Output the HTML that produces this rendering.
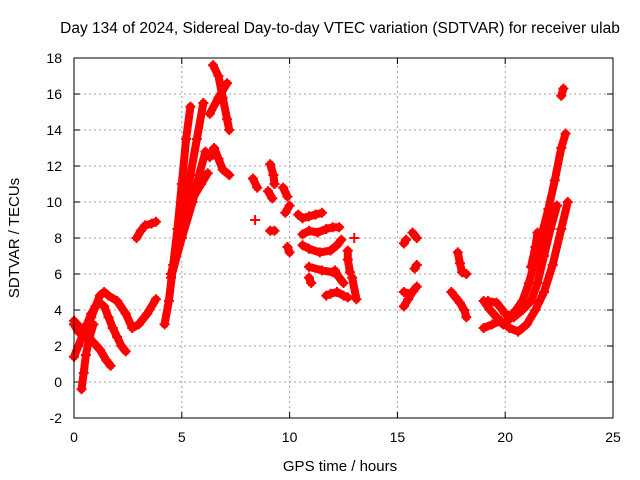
<!DOCTYPE html>
<html><head><meta charset="utf-8"><style>
body{margin:0;background:#fff}
svg{display:block;font-family:"Liberation Sans",sans-serif}
</style></head><body>
<svg id="chart" width="640" height="480">
<rect width="640" height="480" fill="#fff"/>
<text x="340" y="33" font-size="15.5" text-anchor="middle">Day 134 of 2024, Sidereal Day-to-day VTEC variation (SDTVAR) for receiver ulab</text>
<text x="340" y="471" font-size="15" text-anchor="middle">GPS time / hours</text>
<text transform="translate(19,238) rotate(-90)" font-size="15" text-anchor="middle">SDTVAR / TECUs</text>
<g id="grid"></g><g id="marks"></g>
<rect x="74" y="58" width="539" height="360" fill="none" stroke="#000" stroke-width="1"/>
</svg>
<script>
const xTicks=[0,5,10,15,20,25];
const yTicks=[-2,0,2,4,6,8,10,12,14,16,18];
// each track: [time(hours), sdtvar(TECU)] pairs
const track1=[[0,3.2],[0.2,2.8],[0.4,2.6],[0.6,3],[0.8,3.6],[1.0,4.2],[1.2,4.8],[1.4,5.0],[1.6,4.8],[2.0,4.5],[2.4,3.8],[2.7,3.0],[3.0,3.2],[3.4,3.8],[3.8,4.6]];
const track2=[[0,1.4],[0.2,2.0],[0.4,2.6],[0.6,3.2],[0.8,3.8],[1.0,4.2],[1.2,4.4],[1.4,4.2],[1.6,3.6],[1.8,3.0],[2.0,2.5],[2.2,2.0],[2.4,1.7]];
const track3=[[0,3.4],[0.3,3.0],[0.6,2.6],[0.9,2.2],[1.2,1.8],[1.5,1.2],[1.7,0.9]];
const track4=[[0.35,-0.4],[0.45,0.5],[0.55,1.5],[0.7,2.4],[0.9,3.2]];
const track5=[[2.9,8.0],[3.1,8.4],[3.3,8.7],[3.6,8.8],[3.8,8.9]];
const track6=[[4.2,3.2],[4.4,4.5],[4.6,6.5],[4.8,8.5],[5.0,11],[5.2,13.5],[5.4,15.3]];
const track7=[[4.5,6],[4.8,7.5],[5.1,9.5],[5.4,11.5],[5.7,13.5],[6.0,15.5]];
const track8=[[4.5,5.8],[5.0,8],[5.5,10],[5.8,11.5],[6.1,12.8]];
const track9=[[5.2,9],[5.5,10.2],[5.9,11.0],[6.2,11.6]];
const track10=[[6.3,12.5],[6.5,13.0],[6.7,12.4],[6.9,11.8],[7.2,11.5]];
const track11=[[6.3,14.9],[6.7,15.8],[7.1,16.6]];
const track12=[[6.45,17.6],[6.7,17.0],[6.9,15.8],[7.1,14.6],[7.2,14.0]];
const track13=[[8.3,11.3],[8.5,10.8]];
const track14=[[8.4,9.0]];
const track15=[[9.1,12.1],[9.25,11.5],[9.3,11.0]];
const track16=[[9.0,10.6],[9.2,10.2]];
const track17=[[9.1,8.4],[9.3,8.4]];
const track18=[[9.7,10.8],[9.9,10.3]];
const track19=[[9.8,9.4],[10.0,9.8]];
const track20=[[9.9,7.5],[10.0,7.2]];
const track21=[[10.4,9.3],[10.6,9.1],[10.9,9.2],[11.2,9.3],[11.5,9.4]];
const track22=[[10.6,8.2],[10.9,8.4],[11.3,8.3],[11.7,8.5],[12.0,8.6],[12.3,8.6]];
const track23=[[10.6,7.6],[10.9,7.4],[11.4,7.2],[11.9,7.3],[12.2,7.6],[12.4,7.9]];
const track24=[[10.9,6.4],[11.5,6.2],[12.0,6.1]];
const track25=[[10.9,5.8],[11.0,5.5]];
const track26=[[11.7,4.8],[11.9,4.9],[12.2,5.0],[12.5,4.8],[12.7,4.7]];
const track27=[[12.1,6.2],[12.3,5.8],[12.5,5.5]];
const track28=[[12.7,7.3],[12.7,6.8],[12.8,6.1]];
const track29=[[12.9,5.8],[13.1,4.6]];
const track30=[[13.0,8.0]];
const track31=[[15.3,7.7],[15.4,7.9]];
const track32=[[15.7,8.3],[15.9,8.0]];
const track33=[[15.8,6.3],[15.9,6.5]];
const track34=[[15.3,4.2],[15.5,4.6],[15.7,5.0],[15.9,5.3]];
const track35=[[15.3,5.0],[15.6,4.9]];
const track36=[[17.8,7.2],[17.9,6.6],[18.0,6.1],[18.2,6.0]];
const track37=[[17.5,5.0],[17.7,4.7],[17.9,4.4],[18.1,4.0],[18.2,3.6]];
const track38=[[19.0,4.5],[19.3,4.0],[19.6,3.6],[19.9,3.2],[20.2,3.5],[20.5,4.0],[20.8,4.5],[21.1,5.5],[21.4,6.8],[21.7,8.2],[22.0,9.6],[22.3,11.2],[22.6,13],[22.8,13.8]];
const track39=[[19.0,3.0],[19.4,3.2],[19.8,3.4],[20.2,3.0],[20.6,2.8],[21.0,3.2],[21.4,4.0],[21.8,5.0],[22.2,6.5],[22.6,8.5],[22.9,10.0]];
const track40=[[19.2,4.5],[19.6,4.4],[20.0,3.8],[20.4,3.6],[20.8,4.0],[21.2,4.5],[21.5,5.5],[21.8,7],[22.1,8.5],[22.4,9.8]];
const track41=[[21.2,6.4],[21.4,7.5],[21.5,8.3]];
const track42=[[22.6,15.9],[22.7,16.3]];
const tracks=[track1,track2,track3,track4,track5,track6,track7,track8,track9,track10,track11,track12,track13,track14,track15,track16,track17,track18,track19,track20,track21,track22,track23,track24,track25,track26,track27,track28,track29,track30,track31,track32,track33,track34,track35,track36,track37,track38,track39,track40,track41,track42];

const X0=74,X1=613,Y0=418,Y1=58;
function xs(t){return X0+(t-0)/(25-0)*(X1-X0);}
function ys(v){return Y0-(v-(-2))/(18-(-2))*(Y0-Y1);}
const NS='http://www.w3.org/2000/svg';
const grid=document.getElementById('grid'),marks=document.getElementById('marks');
function mk(tag,attrs,parent){const e=document.createElementNS(NS,tag);for(const k in attrs)e.setAttribute(k,attrs[k]);parent.appendChild(e);return e;}
xTicks.forEach(t=>{
  const x=xs(t);
  if(t>0&&t<25){const g=mk('line',{x1:x,y1:Y0,x2:x,y2:Y1,stroke:'#a0a0a0','stroke-dasharray':'2,3'},grid);
  
  }
  mk('line',{x1:x,y1:Y0,x2:x,y2:Y0-6,stroke:'#000'},grid);
  mk('line',{x1:x,y1:Y1,x2:x,y2:Y1+6,stroke:'#000'},grid);
  const l=mk('text',{x:x,y:Y0+24,'font-size':14,'text-anchor':'middle'},grid);l.textContent=t;
  
  
});
yTicks.forEach(v=>{
  const y=ys(v);
  if(v>-2&&v<18){const g=mk('line',{x1:X0,y1:y,x2:X1,y2:y,stroke:'#a0a0a0','stroke-dasharray':'2,3'},grid);
  
  }
  mk('line',{x1:X0,y1:y,x2:X0+6,y2:y,stroke:'#000'},grid);
  mk('line',{x1:X1,y1:y,x2:X1-6,y2:y,stroke:'#000'},grid);
  const l=mk('text',{x:X0-12,y:y+5,'font-size':14,'text-anchor':'end'},grid);l.textContent=v;
  
  
});
tracks.forEach(tr=>{
  const g=mk('g',{},marks);
  
  
  if(tr.length>1){mk('polyline',{points:tr.map(p=>xs(p[0])+','+ys(p[1])).join(' '),fill:'none',stroke:'#f00','stroke-width':8,'stroke-linecap':'round','stroke-linejoin':'round'},g);}
  tr.forEach(p=>{
    const x=xs(p[0]),y=ys(p[1]);
    const m=mk('path',{d:`M${x-5},${y}H${x+5}M${x},${y-5}V${y+5}`,stroke:'#f00','stroke-width':2},g);
    
    
  });
});
</script>
</body></html>
